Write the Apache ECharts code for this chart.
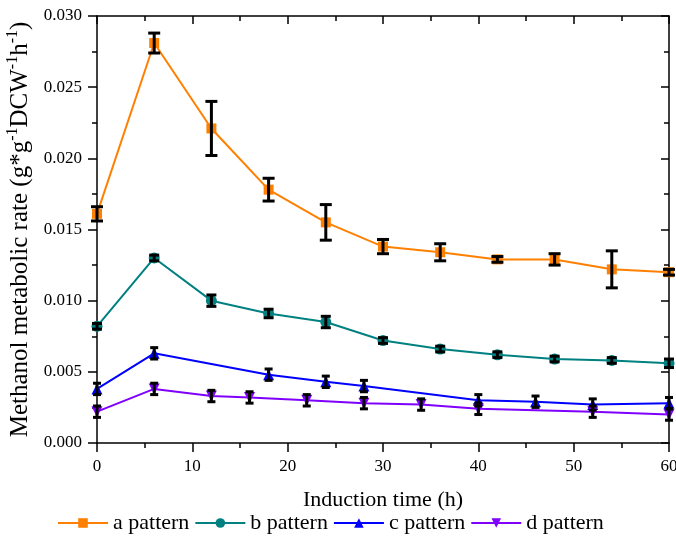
<!DOCTYPE html>
<html>
<head>
<meta charset="utf-8">
<script src="https://cdn.jsdelivr.net/npm/echarts@6/dist/echarts.min.js"></script>
<style>
  html, body { margin: 0; padding: 0; background: #fff; }
  #chart { width: 676px; height: 543px; }
</style>
</head>
<body>
<div id="chart"></div>
<script>
// induction time points (h)
var timeAB = [0, 6, 12, 18, 24, 30, 36, 42, 48, 54, 60];
var timeC = [0, 6, 18, 24, 28, 40, 46, 52, 60];
var timeD = [0, 6, 12, 16, 22, 28, 34, 40, 52, 60];

// methanol metabolic rate + standard deviation
var aVal = [0.0161, 0.0281, 0.0221, 0.0178, 0.0155, 0.0138, 0.0134, 0.0129, 0.0129, 0.0122, 0.0120];
var aErr = [0.0005, 0.0007, 0.0019, 0.0008, 0.00125, 0.0005, 0.0006, 0.0002, 0.0004, 0.0013, 0.0002];
var bVal = [0.0082, 0.0130, 0.0100, 0.0091, 0.0085, 0.0072, 0.0066, 0.0062, 0.0059, 0.0058, 0.0056];
var bErr = [0.0002, 0.0002, 0.0004, 0.0003, 0.0004, 0.0002, 0.0002, 0.0002, 0.0002, 0.0002, 0.0003];
var cVal = [0.0038, 0.0063, 0.0048, 0.0043, 0.0040, 0.0030, 0.0029, 0.0027, 0.0028];
var cErr = [0.0004, 0.0004, 0.0004, 0.0004, 0.0004, 0.0004, 0.0004, 0.0004, 0.0004];
var dVal = [0.0022, 0.0038, 0.0033, 0.0032, 0.0030, 0.0028, 0.0027, 0.0024, 0.0022, 0.0020];
var dErr = [0.0004, 0.0004, 0.0004, 0.0004, 0.0004, 0.0004, 0.0004, 0.0004, 0.0004, 0.0004];

var FONT = '"Liberation Serif", "Times New Roman", serif';
var DOWN_TRI = 'path://M0,0 L10,0 L5,10 Z';

function pairs(xs, ys) {
    return xs.map(function (x, i) { return [x, ys[i]]; });
}
function errData(xs, ys, es) {
    return xs.map(function (x, i) { return [x, ys[i] - es[i], ys[i] + es[i]]; });
}

function errorBars(xs, ys, es, capW, lw) {
    return {
        type: 'custom',
        z: 5,
        silent: true,
        data: errData(xs, ys, es),
        renderItem: function (params, api) {
            var lo = api.coord([api.value(0), api.value(1)]);
            var hi = api.coord([api.value(0), api.value(2)]);
            var st = { stroke: '#000', lineWidth: lw };
            return {
                type: 'group',
                children: [
                    { type: 'line', shape: { x1: lo[0], y1: lo[1], x2: hi[0], y2: hi[1] }, style: st },
                    { type: 'line', shape: { x1: lo[0] - capW / 2, y1: lo[1], x2: lo[0] + capW / 2, y2: lo[1] }, style: st },
                    { type: 'line', shape: { x1: hi[0] - capW / 2, y1: hi[1], x2: hi[0] + capW / 2, y2: hi[1] }, style: st }
                ]
            };
        }
    };
}

function lineSeries(name, xs, ys, color, symbol) {
    return {
        name: name,
        type: 'line',
        data: pairs(xs, ys),
        symbol: symbol,
        symbolSize: symbol === 'rect' ? 10 : 11,
        showAllSymbol: true,
        lineStyle: { color: color, width: 2 },
        itemStyle: { color: color },
        z: 3
    };
}

var axisLineStyle = { color: '#000', width: 1.5 };

var chart = echarts.init(document.getElementById('chart'));
chart.setOption({
    animation: false,
    backgroundColor: '#fff',
    grid: { left: 97, right: 7, top: 16, bottom: 100, outerBoundsMode: 'none' },
    legend: {
        data: ['a pattern', 'b pattern', 'c pattern', 'd pattern'],
        bottom: 4,
        left: 52,
        itemGap: 5,
        itemWidth: 50,
        itemHeight: 12,
        textStyle: { fontFamily: FONT, fontSize: 22, color: '#000' }
    },
    xAxis: [{
        type: 'value',
        min: 0, max: 60, interval: 10,
        name: 'Induction time (h)',
        nameLocation: 'middle',
        nameGap: 46,
        nameTextStyle: { fontFamily: FONT, fontSize: 22, color: '#000' },
        axisLine: { show: true, onZero: false, lineStyle: axisLineStyle },
        axisTick: { show: true, inside: false, length: 9, lineStyle: axisLineStyle },
        minorTick: { show: true, splitNumber: 2, length: 5, lineStyle: axisLineStyle },
        axisLabel: { fontFamily: FONT, fontSize: 17, color: '#000', margin: 15 },
        splitLine: { show: false }
    }, {
        type: 'value',
        position: 'top',
        min: 0, max: 60, interval: 10,
        axisLine: { show: true, onZero: false, lineStyle: axisLineStyle },
        axisTick: { show: true, inside: true, length: 8, lineStyle: axisLineStyle },
        minorTick: { show: true, splitNumber: 2, length: 5, lineStyle: axisLineStyle },
        axisLabel: { show: false },
        splitLine: { show: false }
    }],
    yAxis: [{
        type: 'value',
        min: 0, max: 0.03, interval: 0.005,
        name: '{n|Methanol metabolic rate (g*g}{s|-1}{n|DCW}{s|-1}{n|h}{s|-1}{n|)}',
        nameLocation: 'middle',
        nameGap: 62,
        nameTextStyle: {
            fontFamily: FONT, fontSize: 25, color: '#000',
            rich: {
                n: { fontFamily: FONT, fontSize: 25, color: '#000', verticalAlign: 'bottom', lineHeight: 28 },
                s: { fontFamily: FONT, fontSize: 16, color: '#000', verticalAlign: 'top', lineHeight: 28 }
            }
        },
        axisLine: { show: true, onZero: false, lineStyle: axisLineStyle },
        axisTick: { show: true, inside: false, length: 9, lineStyle: axisLineStyle },
        minorTick: { show: true, splitNumber: 2, length: 5, lineStyle: axisLineStyle },
        axisLabel: {
            fontFamily: FONT, fontSize: 17, color: '#000', margin: 15,
            formatter: function (v) { return v.toFixed(3); }
        },
        splitLine: { show: false }
    }, {
        type: 'value',
        position: 'right',
        min: 0, max: 0.03, interval: 0.005,
        axisLine: { show: true, onZero: false, lineStyle: axisLineStyle },
        axisTick: { show: true, inside: true, length: 8, lineStyle: axisLineStyle },
        minorTick: { show: true, splitNumber: 2, length: 5, lineStyle: axisLineStyle },
        axisLabel: { show: false },
        splitLine: { show: false }
    }],
    series: [
        lineSeries('a pattern', timeAB, aVal, '#FF8000', 'rect'),
        lineSeries('b pattern', timeAB, bVal, '#008080', 'circle'),
        lineSeries('c pattern', timeC, cVal, '#0000FF', 'triangle'),
        lineSeries('d pattern', timeD, dVal, '#8000FF', DOWN_TRI),
        errorBars(timeAB, aVal, aErr, 12, 3),
        errorBars(timeAB, bVal, bErr, 10, 3),
        errorBars(timeC, cVal, cErr, 8, 3),
        errorBars(timeD, dVal, dErr, 8, 3)
    ]
});
</script>
</body>
</html>
